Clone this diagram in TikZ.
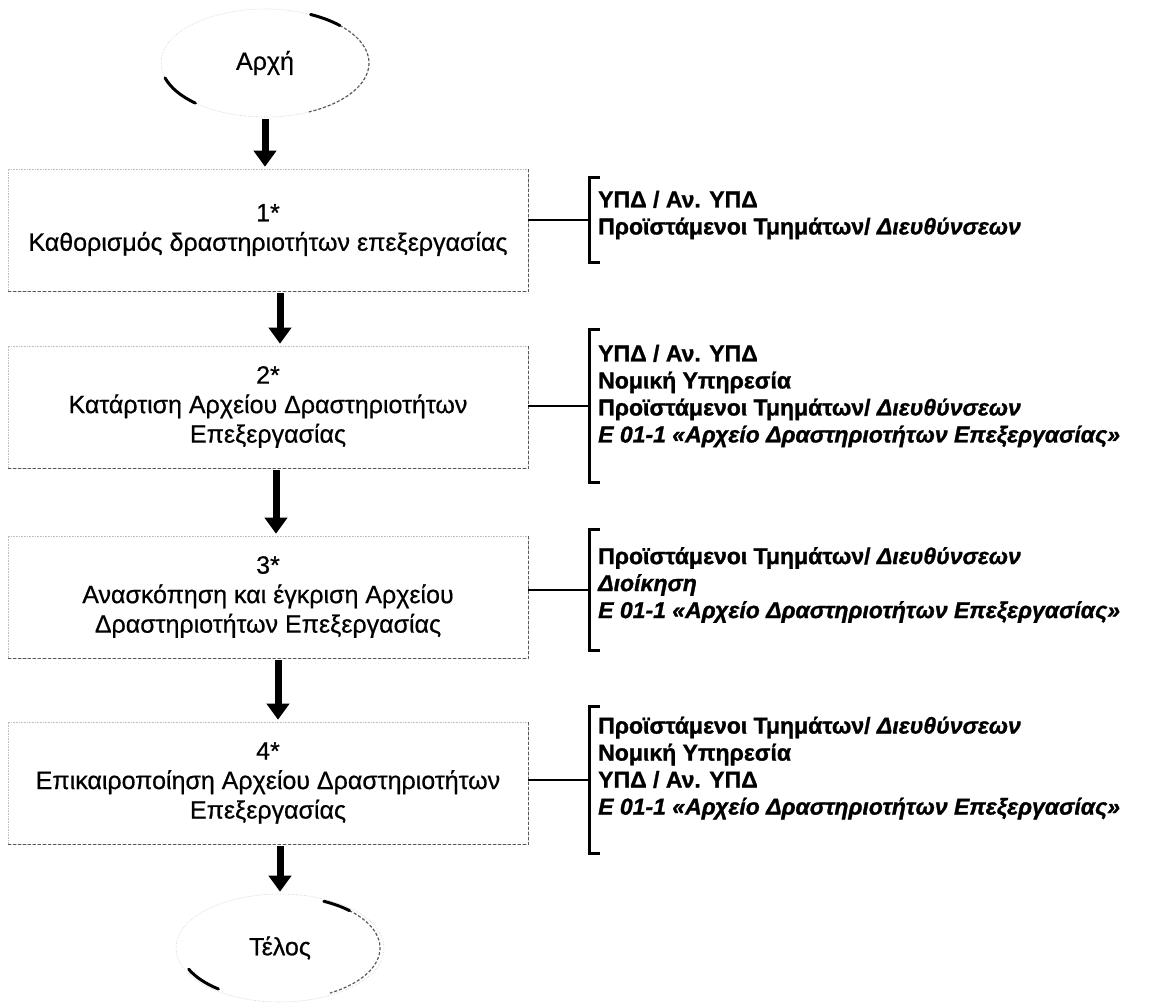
\documentclass[tikz,border=0pt]{standalone}
\usepackage{fontspec}
\setmainfont{Liberation Sans}
\newfontfamily\notefont[FakeBold=1.2]{Liberation Sans}
\newfontfamily\boxfont[FakeBold=0.6]{Liberation Sans}
\usetikzlibrary{arrows.meta,shapes.geometric}
\begin{document}
\begin{tikzpicture}[x=1pt,y=1pt,
  box/.style={draw=black!25, densely dotted, line width=0.6pt, minimum width=520pt,
    minimum height=122pt, align=center, inner sep=0pt,
    font=\boxfont\fontsize{25}{29.5}\selectfont},
  edge/.style={draw=black!65, densely dashed, line width=0.9pt},
  terminal/.style={ellipse, draw=black!18, densely dotted, line width=0.6pt,
    minimum width=208pt, minimum height=108pt, inner sep=0pt,
    font=\boxfont\fontsize{25}{29}\selectfont},
  termarc/.style={line width=3pt, line cap=round},
  termside/.style={draw=black!65, densely dashed, line width=1.2pt},
  flow/.style={line width=7pt, -{Triangle[width=22pt,length=16pt]},
    shorten <=2pt, shorten >=2pt},
  note/.style={anchor=west, align=left, inner xsep=8pt, inner ysep=0pt,
    font=\notefont\bfseries\fontsize{23}{27}\selectfont},
  brk/.style={inner sep=0pt, minimum width=0pt},
  bracket/.style={line width=3pt},
  link/.style={line width=2.5pt}
]
\useasboundingbox (0,0) rectangle (1153,-1002);

% terminals
\node[terminal] (start) at (265,-63) {Αρχή};
\node[terminal] (end) at (280,-948) {Τέλος};

\draw[termside] (start.center) ++(44:104pt and 54pt)
  arc[start angle=44, end angle=-65, x radius=104pt, y radius=54pt];
\draw[termarc] (start.center) ++(64:104pt and 54pt)
  arc[start angle=64, end angle=44, x radius=104pt, y radius=54pt];
\draw[termarc] (start.center) ++(196:104pt and 54pt)
  arc[start angle=196, end angle=228, x radius=104pt, y radius=54pt];

\draw[termside] (end.center) ++(46:100pt and 52pt)
  arc[start angle=46, end angle=-60, x radius=100pt, y radius=52pt];
\draw[termarc] (end.center) ++(64:100pt and 52pt)
  arc[start angle=64, end angle=46, x radius=100pt, y radius=52pt];
\draw[termarc] (end.center) ++(204:100pt and 52pt)
  arc[start angle=204, end angle=232, x radius=100pt, y radius=52pt];

% process boxes
\node[box] (b1) at (268,-230) {1*\\Καθορισμός δραστηριοτήτων επεξεργασίας};
\node[box] (b2) at (268,-407) {2*\\Κατάρτιση Αρχείου Δραστηριοτήτων\\Επεξεργασίας};
\node[box] (b3) at (268,-597) {3*\\Ανασκόπηση και έγκριση Αρχείου\\Δραστηριοτήτων Επεξεργασίας};
\node[box] (b4) at (268,-783) {4*\\Επικαιροποίηση Αρχείου Δραστηριοτήτων\\Επεξεργασίας};

\foreach \b in {b1,b2,b3,b4}{
  \draw[edge] (\b.south west) -- (\b.south east) -- (\b.north east);
}

% flow arrows
\draw[flow] (start.south) -- (start.south |- b1.north);
\draw[flow] ([xshift=12pt]b1.south) -- ([xshift=12pt]b2.north);
\draw[flow] ([xshift=8pt]b2.south) -- ([xshift=8pt]b3.north);
\draw[flow] ([xshift=10pt]b3.south) -- ([xshift=10pt]b4.north);
\draw[flow] ([xshift=12pt]b4.south) -- (end.north);

% brackets
\node[brk, minimum height=84pt] (k1) at (590,-220) {};
\node[brk, minimum height=152pt] (k2) at (590,-406) {};
\node[brk, minimum height=120pt] (k3) at (590,-590) {};
\node[brk, minimum height=147pt] (k4) at (590,-780) {};
\foreach \k in {k1,k2,k3,k4}{
  \draw[bracket] ([xshift=10pt]\k.north west) -- (\k.north west) -- (\k.south west) -- ([xshift=10pt]\k.south west);
}
\draw[link] (b1.east |- k1.west) -- (k1.west);
\draw[link] (b2.east |- k2.west) -- (k2.west);
\draw[link] (b3.east |- k3.west) -- (k3.west);
\draw[link] (b4.east |- k4.west) -- (k4.west);

% notes
\node[note] (n1) at (590,-215) {ΥΠΔ / Αν. ΥΠΔ\\Προϊστάμενοι Τμημάτων/ \textit{Διευθύνσεων}};
\node[note] (n2) at (590,-396) {ΥΠΔ / Αν. ΥΠΔ\\Νομική Υπηρεσία\\Προϊστάμενοι Τμημάτων/ \textit{Διευθύνσεων}\\\textit{Ε 01-1 «Αρχείο Δραστηριοτήτων Επεξεργασίας»}};
\node[note] (n3) at (590,-585) {Προϊστάμενοι Τμημάτων/ \textit{Διευθύνσεων}\\\textit{Διοίκηση}\\\textit{Ε 01-1 «Αρχείο Δραστηριοτήτων Επεξεργασίας»}};
\node[note] (n4) at (590,-768) {Προϊστάμενοι Τμημάτων/ \textit{Διευθύνσεων}\\Νομική Υπηρεσία\\ΥΠΔ / Αν. ΥΠΔ\\\textit{Ε 01-1 «Αρχείο Δραστηριοτήτων Επεξεργασίας»}};
\end{tikzpicture}
\end{document}
